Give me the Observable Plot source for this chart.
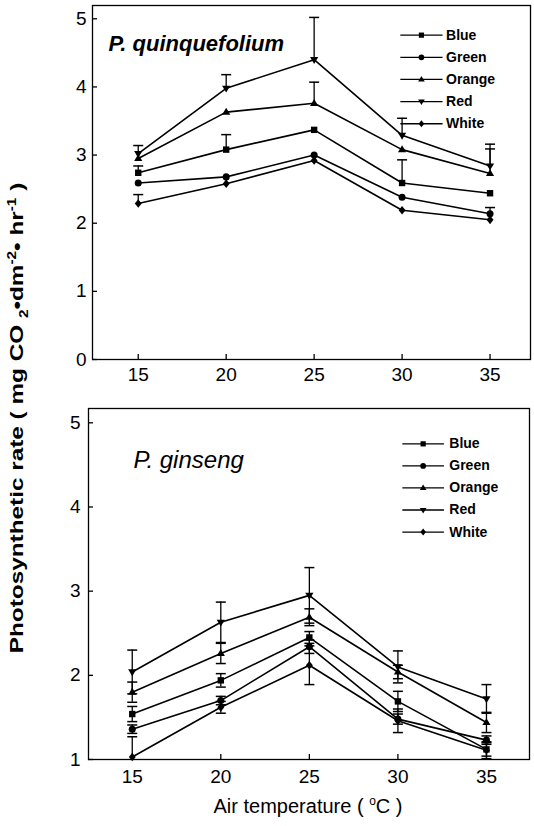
<!DOCTYPE html>
<html>
<head>
<meta charset="utf-8">
<script src="https://cdn.jsdelivr.net/npm/d3@7"></script>
<script src="https://cdn.jsdelivr.net/npm/@observablehq/plot@0.6"></script>
<style>
  html, body { margin: 0; padding: 0; background: #fff; }
  body { width: 534px; height: 826px; position: relative; overflow: hidden; font-family: "Liberation Sans", Arial, sans-serif; }
  #top { position: absolute; left: 0; top: 0; }
  #bottom { position: absolute; left: 0; top: 390px; }
  #ylab { position: absolute; left: 18px; top: 418px; transform: translate(-50%, -50%) rotate(-90deg) scale(1.28, 1); white-space: nowrap; font-size: 19px; font-weight: bold; color: #000; }
  #ylab sub, #ylab sup { font-size: 12px; }
  #xlab { position: absolute; left: 308px; top: 806px; transform: translate(-50%, -50%); white-space: nowrap; font-size: 20px; color: #000; }
  #xlab sup { font-size: 12px; }
</style>
</head>
<body>
<div id="top"></div>
<div id="bottom"></div>
<div id="ylab">Photosynthetic rate ( mg CO <sub>2</sub>&#8226;dm<sup>-2</sup>&#8226; hr<sup>-1</sup> )</div>
<div id="xlab">Air temperature ( <sup>o</sup>C )</div>
<script>
// ---- data ----
const temps = [15, 20, 25, 30, 35];
const seriesNames = ["Blue", "Green", "Orange", "Red", "White"];

// P. quinquefolium
const quinqBlue   = [2.74, 3.08, 3.37, 2.59, 2.44];
const quinqGreen  = [2.59, 2.68, 3.00, 2.38, 2.14];
const quinqOrange = [2.95, 3.63, 3.76, 3.08, 2.73];
const quinqRed    = [3.02, 3.98, 4.40, 3.29, 2.84];
const quinqWhite  = [2.29, 2.58, 2.92, 2.19, 2.05];
// upper error (SE)
const quinqBlueErr   = [0.10, 0.22, 0.00, 0.34, 0.00];
const quinqGreenErr  = [0.00, 0.00, 0.00, 0.00, 0.09];
const quinqOrangeErr = [0.00, 0.00, 0.31, 0.00, 0.36];
const quinqRedErr    = [0.12, 0.20, 0.62, 0.25, 0.32];
const quinqWhiteErr  = [0.13, 0.00, 0.00, 0.00, 0.00];

// P. ginseng
const ginsBlue   = [1.54, 1.94, 2.45, 1.69, 1.12];
const ginsGreen  = [1.36, 1.70, 2.34, 1.48, 1.23];
const ginsOrange = [1.80, 2.26, 2.69, 2.04, 1.44];
const ginsRed    = [2.04, 2.63, 2.95, 2.10, 1.72];
const ginsWhite  = [1.03, 1.62, 2.12, 1.46, 1.11];
const ginsBlueErr   = [0.09, 0.08, 0.07, 0.12, 0.08];
const ginsGreenErr  = [0.05, 0.05, 0.08, 0.06, 0.05];
const ginsOrangeErr = [0.12, 0.12, 0.10, 0.08, 0.12];
const ginsRedErr    = [0.26, 0.24, 0.33, 0.19, 0.17];
const ginsWhiteErr  = [0.24, 0.07, 0.23, 0.14, 0.10];

const yTicksTop = [0, 1, 2, 3, 4, 5];
const yTicksBottom = [1, 2, 3, 4, 5];
const xTicks = [15, 20, 25, 30, 35];

// ---- symbols ----
const symSquare = {draw(c, s) { const r = Math.sqrt(s / Math.PI); c.rect(-r, -r, 2 * r, 2 * r); }};
const symCircle = {draw(c, s) { const r = Math.sqrt(s / Math.PI) * 1.1; c.moveTo(r, 0); c.arc(0, 0, r, 0, 2 * Math.PI); }};
const symTriUp = {draw(c, s) { const r = Math.sqrt(s / Math.PI) * 1.35; c.moveTo(0, -r); c.lineTo(r * 0.95, r * 0.6); c.lineTo(-r * 0.95, r * 0.6); c.closePath(); }};
const symTriDown = {draw(c, s) { const r = Math.sqrt(s / Math.PI) * 1.35; c.moveTo(0, r); c.lineTo(r * 0.95, -r * 0.6); c.lineTo(-r * 0.95, -r * 0.6); c.closePath(); }};
const symDiamond = {draw(c, s) { const r = Math.sqrt(s / Math.PI) * 1.35; c.moveTo(0, -r); c.lineTo(r * 0.8, 0); c.lineTo(0, r); c.lineTo(-r * 0.8, 0); c.closePath(); }};
const symCap = {draw(c, s) { const r = Math.sqrt(s / Math.PI); c.moveTo(-r, 0); c.lineTo(r, 0); }};
const symbols = {Blue: symSquare, Green: symCircle, Orange: symTriUp, Red: symTriDown, White: symDiamond};

function table(vals, errs) {
  const rows = [];
  seriesNames.forEach((s, i) => {
    temps.forEach((t, j) => rows.push({series: s, t, v: vals[i][j], e: errs[i][j]}));
  });
  return rows;
}

const quinqRows = table(
  [quinqBlue, quinqGreen, quinqOrange, quinqRed, quinqWhite],
  [quinqBlueErr, quinqGreenErr, quinqOrangeErr, quinqRedErr, quinqWhiteErr]);
const ginsRows = table(
  [ginsBlue, ginsGreen, ginsOrange, ginsRed, ginsWhite],
  [ginsBlueErr, ginsGreenErr, ginsOrangeErr, ginsRedErr, ginsWhiteErr]);

const font = "Liberation Sans, Arial, sans-serif";

function panel({rows, both, xDomain, yDomain, yTicks, ml, mr, mt, mb, height, title, titleBold, titleSize, titleDx, titleDy, leg, xPad, yPad}) {
  const errRows = rows.filter(d => d.e > 0);
  const marks = [
    Plot.frame({stroke: "#000", strokeWidth: 1.3}),
    Plot.axisY({ticks: yTicks, tickSize: 0, tickPadding: yPad, tickFormat: d3.format("d"), label: null, fontSize: 19}),
    Plot.axisY({ticks: yTicks, tickSize: 5, text: null, dx: 5, strokeWidth: 1.3, label: null}),
    Plot.axisX({ticks: xTicks, tickSize: 0, tickPadding: xPad, label: null, fontSize: 19}),
    Plot.axisX({ticks: xTicks, tickSize: 5, text: null, dy: -5, strokeWidth: 1.3, label: null}),
    Plot.ruleX(errRows, {x: "t", y1: d => both ? d.v - d.e : d.v, y2: d => d.v + d.e, stroke: "#000", strokeWidth: 1.3, clip: true}),
    Plot.dot(errRows, {x: "t", y: d => d.v + d.e, symbol: symCap, r: 5, stroke: "#000", strokeWidth: 1.5, fill: "none", clip: true}),
  ];
  if (both) marks.push(Plot.dot(errRows, {x: "t", y: d => d.v - d.e, symbol: symCap, r: 5, stroke: "#000", strokeWidth: 1.5, fill: "none", clip: true}));
  marks.push(Plot.line(rows, {x: "t", y: "v", z: "series", stroke: "#000", strokeWidth: 1.6}));
  for (const s of seriesNames) {
    marks.push(Plot.dot(rows.filter(d => d.series === s), {x: "t", y: "v", symbol: symbols[s], r: 3.2, fill: "#000", stroke: "none"}));
  }
  // legend (inside the frame, drawn through the scales)
  const legRows = seriesNames.map((s, i) => ({series: s, y: leg.y0 - i * leg.step}));
  marks.push(Plot.link(legRows, {x1: leg.x1, x2: leg.x2, y1: "y", y2: "y", stroke: "#000", strokeWidth: 1.3}));
  for (const r of legRows) {
    marks.push(Plot.dot([r], {x: (leg.x1 + leg.x2) / 2, y: "y", symbol: symbols[r.series], r: 2.6, fill: "#000", stroke: "none"}));
  }
  marks.push(Plot.text(legRows, {x: leg.xt, y: "y", text: "series", textAnchor: "start", fontSize: 14, fontWeight: "bold", fill: "#000"}));
  marks.push(Plot.text([title], {frameAnchor: "top-left", lineAnchor: "middle", dx: titleDx, dy: titleDy, text: d => d, textAnchor: "start", fontSize: titleSize, fontStyle: "italic", fontWeight: titleBold ? "bold" : "normal", fill: "#000"}));
  return Plot.plot({
    width: 534, height,
    marginLeft: ml, marginRight: mr, marginTop: mt, marginBottom: mb,
    style: {fontFamily: font, color: "#000", background: "transparent", overflow: "visible"},
    x: {domain: xDomain, axis: null},
    y: {domain: yDomain, axis: null},
    marks
  });
}

document.getElementById("top").append(panel({
  rows: quinqRows, both: false,
  xDomain: [12.4, 37.3], yDomain: [0, 5.195], yTicks: yTicksTop,
  ml: 92, mr: 4, mt: 5, mb: 31, height: 390,
  title: "P. quinquefolium", titleBold: true, titleSize: 22, titleDx: 16, titleDy: 38,
  leg: {x1: 29.9, x2: 32.3, xt: 32.5, y0: 4.76, step: 0.325},
  xPad: 8, yPad: 6
}));

document.getElementById("bottom").append(panel({
  rows: ginsRows, both: true,
  xDomain: [12.53, 37.43], yDomain: [1, 5.17], yTicks: yTicksBottom,
  ml: 88, mr: 5, mt: 18, mb: 21, height: 390,
  title: "P. ginseng", titleBold: false, titleSize: 24, titleDx: 45, titleDy: 52,
  leg: {x1: 30.25, x2: 32.6, xt: 32.9, y0: 4.75, step: 0.262},
  xPad: 10, yPad: 8
}));
</script>
</body>
</html>
